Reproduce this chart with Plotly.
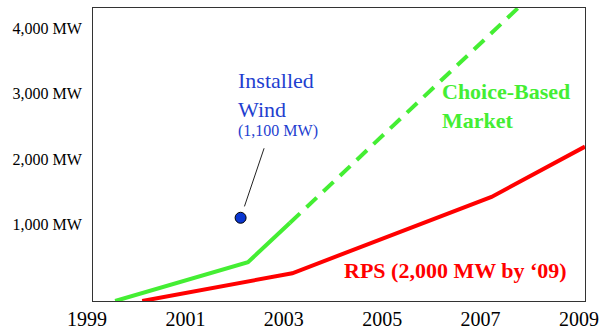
import plotly.graph_objects as go

# ---- data ----
tick_years = [1999, 2001, 2003, 2005, 2007, 2009]
y_tick_vals = [1000, 2000, 3000, 4000]
y_tick_text = ["1,000 MW", "2,000 MW", "3,000 MW", "4,000 MW"]

choice_solid_years = [1999.45, 2002.15, 2003.0]
choice_solid_mw = [-175, 420, 1020]
choice_dash_years = [2003.0, 2008.0]
choice_dash_mw = [1020, 4570]

rps_years = [2000.0, 2003.05, 2007.1, 2009.0]
rps_mw = [-175, 250, 1420, 2190]

wind_year = [2002.0]
wind_mw = [1100]

GREEN = "#44ee33"
RED = "#ff0000"
BLUE = "#1f3fd0"
SERIF = "Liberation Serif"

# plot area in pixels
L, R, T, B = 93, 585, 8, 301
W, H = 600, 331


def px(x, y):
    return (x - L) / (R - L), (B - y) / (B - T)


fig = go.Figure()
fig.add_trace(go.Scatter(x=choice_solid_years, y=choice_solid_mw, mode="lines",
                         line=dict(color=GREEN, width=4), showlegend=False))
fig.add_trace(go.Scatter(x=choice_dash_years, y=choice_dash_mw, mode="lines",
                         line=dict(color=GREEN, width=4, dash="14px,9px"), showlegend=False))
fig.add_trace(go.Scatter(x=rps_years, y=rps_mw, mode="lines",
                         line=dict(color=RED, width=4), showlegend=False))
fig.add_trace(go.Scatter(x=wind_year, y=wind_mw, mode="markers",
                         marker=dict(color="#0a36d0", size=11, line=dict(color="black", width=1)),
                         showlegend=False, cliponaxis=False))

annotations = []
# leader line
annotations.append(dict(x=wind_year[0], y=wind_mw[0], xref="x", yref="y", text="",
                        showarrow=True, arrowhead=0, arrowwidth=1, arrowcolor="#222",
                        ax=24, ay=-71, standoff=12))
xa, ya = px(236, 95)
annotations.append(dict(x=xa, y=ya, xref="paper", yref="paper", text="Installed<br>Wind",
                        showarrow=False, xanchor="left", yanchor="middle", align="left",
                        font=dict(family=SERIF, size=22, color=BLUE)))
xa, ya = px(236, 131)
annotations.append(dict(x=xa, y=ya, xref="paper", yref="paper", text="(1,100 MW)",
                        showarrow=False, xanchor="left", yanchor="middle", align="left",
                        font=dict(family=SERIF, size=16, color=BLUE)))
xa, ya = px(440, 106)
annotations.append(dict(x=xa, y=ya, xref="paper", yref="paper", text="<b>Choice-Based<br>Market</b>",
                        showarrow=False, xanchor="left", yanchor="middle", align="left",
                        font=dict(family=SERIF, size=22, color=GREEN)))
xa, ya = px(342, 270)
annotations.append(dict(x=xa, y=ya, xref="paper", yref="paper", text="<b>RPS (2,000 MW by \u201809)</b>",
                        showarrow=False, xanchor="left", yanchor="middle", align="left",
                        font=dict(family=SERIF, size=22, color=RED)))

fig.update_layout(
    width=W, height=H, autosize=False,
    margin=dict(l=L, r=W - R, t=T, b=H - B, pad=0, autoexpand=False),
    paper_bgcolor="white", plot_bgcolor="white",
    annotations=annotations,
    xaxis=dict(range=[1999, 2009], tickvals=tick_years, ticktext=[str(t) for t in tick_years],
               showgrid=False, zeroline=False, showline=True, mirror=True,
               linecolor="#333", linewidth=1, ticks="", automargin=False,
               ticklabeloverflow="allow", ticklabelshift=-6,
               tickfont=dict(family=SERIF, size=20, color="black")),
    yaxis=dict(range=[-175, 4314], tickvals=y_tick_vals, ticktext=y_tick_text,
               showgrid=False, zeroline=False, showline=True, mirror=True,
               linecolor="#333", linewidth=1, ticks="", automargin=False,
               ticklabelstandoff=7,
               tickfont=dict(family=SERIF, size=16, color="black")),
)

fig.write_html("out.html", config={"displayModeBar": False},
               post_script="document.body.style.margin='0';document.body.style.overflow='hidden';")
